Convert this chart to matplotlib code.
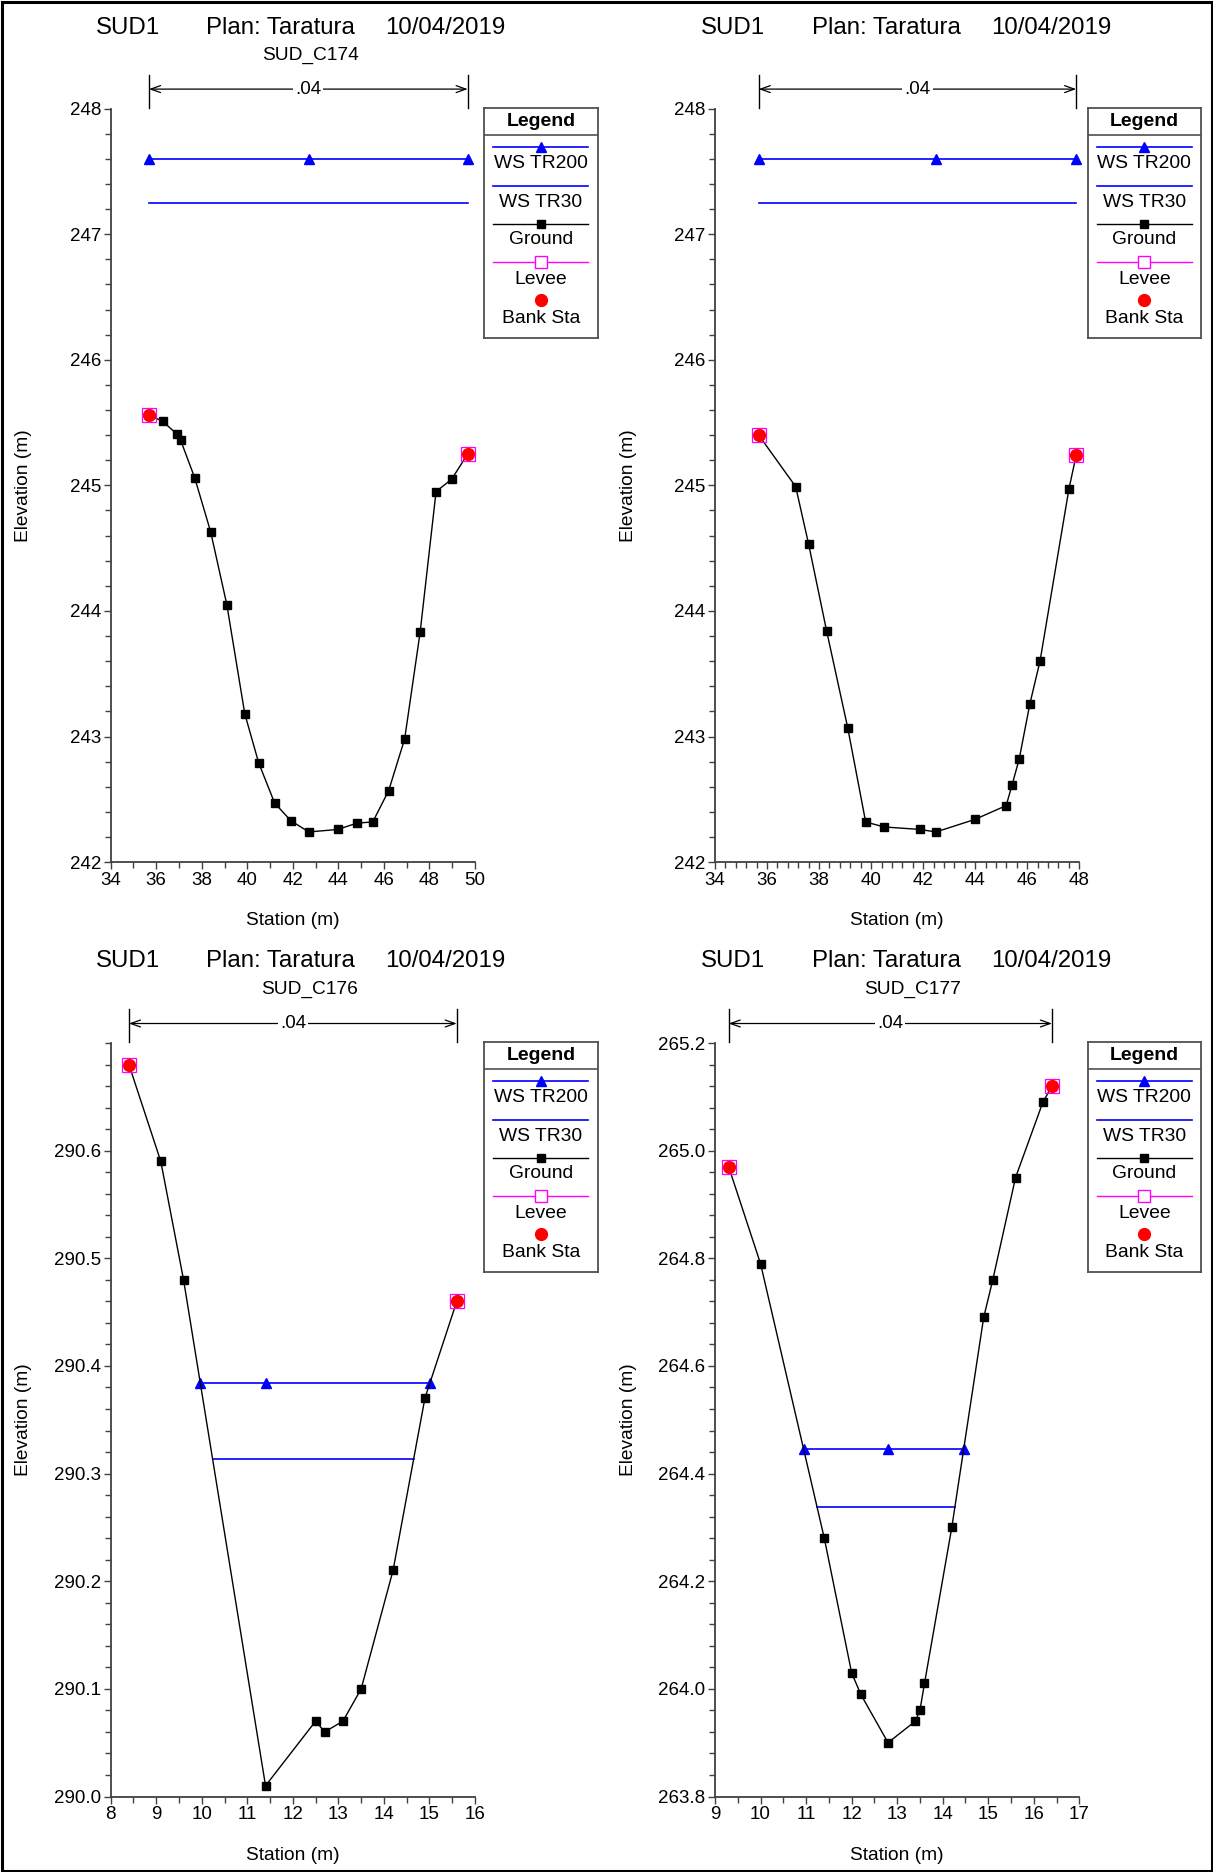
import matplotlib
matplotlib.use("Agg")
import matplotlib.pyplot as plt
import numpy as np
from matplotlib.ticker import MultipleLocator, FormatStrFormatter
from matplotlib.transforms import blended_transform_factory
from matplotlib.patches import Rectangle
from matplotlib.lines import Line2D

plt.rcParams['font.family'] = ['Liberation Sans', 'DejaVu Sans']

W, H = 1213, 1872

river = "SUD1"
plan = "Plan: Taratura"
date = "10/04/2019"
manning_n = ".04"
legend_labels = ["WS TR200", "WS TR30", "Ground", "Levee", "Bank Sta"]

# cross sections (subtitle, station, elevation, bank stations, WS TR200, WS TR30)
names = ["SUD_C174", "", "SUD_C176", "SUD_C177"]

sta_174 = [35.68, 36.28, 36.90, 37.07, 37.69, 38.39, 39.10, 39.89, 40.50, 41.20,
           41.91, 42.70, 43.97, 44.81, 45.51, 46.21, 46.91, 47.59, 48.29, 48.98, 49.68]
elev_174 = [245.56, 245.51, 245.41, 245.36, 245.06, 244.63, 244.05, 243.18, 242.79, 242.47,
            242.33, 242.24, 242.26, 242.31, 242.32, 242.57, 242.98, 243.83, 244.95, 245.05, 245.25]

sta_175 = [35.68, 37.10, 37.60, 38.29, 39.10, 39.79, 40.49, 41.88, 42.49, 43.99,
           45.19, 45.41, 45.69, 46.10, 46.49, 47.60, 47.88]
elev_175 = [245.40, 244.99, 244.53, 243.84, 243.07, 242.32, 242.28, 242.26, 242.24, 242.34,
            242.45, 242.61, 242.82, 243.26, 243.60, 244.97, 245.24]

sta_176 = [8.4, 9.1, 9.6, 11.4, 12.5, 12.7, 13.1, 13.5, 14.2, 14.9, 15.6]
elev_176 = [290.68, 290.59, 290.48, 290.01, 290.07, 290.06, 290.07, 290.10, 290.21, 290.37, 290.46]

sta_177 = [9.3, 10.0, 11.4, 12.0, 12.2, 12.8, 13.4, 13.5, 13.6, 14.2, 14.9, 15.1, 15.6, 16.2, 16.4]
elev_177 = [264.97, 264.79, 264.28, 264.03, 263.99, 263.90, 263.94, 263.96, 264.01, 264.30,
            264.69, 264.76, 264.95, 265.09, 265.12]

stations = [sta_174, sta_175, sta_176, sta_177]
elevations = [elev_174, elev_175, elev_176, elev_177]
ws_tr200 = [247.60, 247.60, 290.384, 264.445]
ws_tr30 = [247.25, 247.25, 290.314, 264.337]

xlims = [(34, 50), (34, 48), (8, 16), (9, 17)]
ylims = [(242, 248), (242, 248), (290.0, 290.7), (263.8, 265.2)]
xmajor = [2, 2, 1, 1]
xminor = [1, 0.4, 0.5, 0.5]
ymajor = [1, 1, 0.1, 0.2]
yminor = [0.2, 0.2, 0.02, 0.04]
yfmt = ["%d", "%d", "%.1f", "%.1f"]
ytop_label = [248, 248, 290.6, 265.2]


def px(x0, y0, x1, y1):
    # pixel box -> figure fraction rect
    return [x0 / W, 1 - y1 / H, (x1 - x0) / W, (y1 - y0) / H]


def ws_extent(x, z, ws):
    x = np.array(x)
    z = np.array(z)
    i0 = int(np.argmin(z))
    left = x[0]
    for i in range(i0, 0, -1):
        if z[i - 1] >= ws:
            left = x[i] + (ws - z[i]) / (z[i - 1] - z[i]) * (x[i - 1] - x[i])
            break
    right = x[-1]
    for i in range(i0, len(x) - 1):
        if z[i + 1] >= ws:
            right = x[i] + (ws - z[i]) / (z[i + 1] - z[i]) * (x[i + 1] - x[i])
            break
    return left, right, x[i0]


fig = plt.figure(figsize=(W / 100, H / 100), dpi=100)

col_off = [0, 604.3]
row_top = [108.6, 1043.0]
ax_w, ax_h = 364.3, 753.5
axis_col = "#404040"

for k in range(4):
    r, c = k // 2, k % 2
    left = 110.7 + col_off[c]
    top = row_top[r]
    ax = fig.add_axes(px(left, top, left + ax_w, top + ax_h))

    x = stations[k]
    z = elevations[k]
    banks = [x[0], x[-1]]
    bank_z = [z[0], z[-1]]

    # water surfaces
    l2, r2, thal = ws_extent(x, z, ws_tr200[k])
    ax.plot([l2, r2], [ws_tr200[k]] * 2, color="#0000ff", lw=1.2, zorder=3)
    ax.plot([l2, thal, r2], [ws_tr200[k]] * 3, ls="none", marker="^", ms=7,
            color="#0000ff", zorder=4, clip_on=False)
    l3, r3, _ = ws_extent(x, z, ws_tr30[k])
    ax.plot([l3, r3], [ws_tr30[k]] * 2, color="#0000ff", lw=1.2, zorder=3)

    # ground
    ax.plot(x, z, color="black", lw=1.0, marker="s", ms=6, zorder=5, clip_on=False)
    ax.plot(banks, bank_z, ls="none", marker="s", ms=9.5, mfc="none", mec="magenta",
            mew=0.9, zorder=6, clip_on=False)
    ax.plot(banks, bank_z, ls="none", marker="o", ms=8.5, color="red", zorder=7,
            clip_on=False)

    ax.set_xlim(*xlims[k])
    ax.set_ylim(*ylims[k])
    ax.xaxis.set_major_locator(MultipleLocator(xmajor[k]))
    ax.xaxis.set_minor_locator(MultipleLocator(xminor[k]))
    yt = np.arange(ylims[k][0], ytop_label[k] + ymajor[k] / 2, ymajor[k])
    ax.set_yticks(yt)
    ax.yaxis.set_minor_locator(MultipleLocator(yminor[k]))
    ax.yaxis.set_major_formatter(FormatStrFormatter(yfmt[k]))

    for s in ["top", "right"]:
        ax.spines[s].set_visible(False)
    for s in ["left", "bottom"]:
        ax.spines[s].set_color(axis_col)
        ax.spines[s].set_linewidth(1.3)
    ax.tick_params(which="both", direction="out", color=axis_col, labelsize=13.5,
                   labelcolor="black", pad=2)
    ax.tick_params(which="major", length=5, width=1)
    ax.tick_params(which="minor", length=4, width=1)
    ax.patch.set_visible(False)

    ax.set_xlabel("Station (m)", fontsize=13.8, va="center")
    ax.xaxis.set_label_coords(0.5, -0.078)
    ax.set_ylabel("Elevation (m)", fontsize=13.8, va="center")
    ax.yaxis.set_label_coords(-0.238, 0.5)

    # manning's n bracket above the banks
    tr = blended_transform_factory(ax.transData, fig.transFigure)
    y_arrow = 1 - (top - 19.5) / H
    y_bar0 = 1 - (top - 34) / H
    y_bar1 = 1 - (top - 1) / H
    for b in banks:
        ax.add_line(Line2D([b, b], [y_bar0, y_bar1], transform=tr, color="black",
                           lw=1.0, clip_on=False))
    ax.annotate("", xy=(banks[0], y_arrow), xytext=(banks[1], y_arrow), xycoords=tr,
                textcoords=tr, annotation_clip=False,
                arrowprops=dict(arrowstyle="<->,head_length=0.7,head_width=0.25",
                                color="black", lw=0.9, shrinkA=0, shrinkB=0))
    ax.text((banks[0] + banks[1]) / 2, y_arrow, manning_n, transform=tr, fontsize=13.5,
            ha="center", va="center",
            bbox=dict(facecolor="white", edgecolor="none", pad=1.5))

    # titles
    ty = 1 - (28.5 + (961 - 28.5) * r) / H
    for tx, txt in zip([95.5, 206.5, 385.6], [river, plan, date]):
        fig.text((tx + 605.5 * c) / W, ty, txt, fontsize=17.3, ha="left", va="center")
    if names[k]:
        fig.text((310 + 603 * c) / W, 1 - (55 + 934.5 * r) / H, names[k],
                 fontsize=13.8, ha="center", va="center")

    # legend box
    lx0 = 484.3 + 603.4 * c
    ly0 = 108.3 + 934.0 * r
    lax = fig.add_axes(px(lx0, ly0, lx0 + 113.4, ly0 + 230))
    lax.set_xlim(0, 113.4)
    lax.set_ylim(230, 0)
    lax.set_xticks([])
    lax.set_yticks([])
    for s in lax.spines.values():
        s.set_color("#505050")
        s.set_linewidth(1.3)
    lax.text(56.7, 12.8, "Legend", fontsize=14, fontweight="bold", ha="center", va="center")
    lax.plot([0, 113.4], [26.7, 26.7], color="#505050", lw=1.2)
    lx = [9, 56.7, 104]
    lax.plot(lx, [38.4] * 3, color="#0000ff", lw=1.2, marker="^", ms=7, markevery=[1])
    lax.plot([9, 104], [77.4] * 2, color="#0000ff", lw=1.2)
    lax.plot(lx, [115.7] * 3, color="black", lw=1.0, marker="s", ms=6, markevery=[1])
    lax.plot(lx, [154] * 3, color="magenta", lw=1.0, marker="s", ms=8, mfc="white",
             mec="magenta", markevery=[1])
    lax.plot([56.7], [191.7], ls="none", marker="o", ms=8.5, color="red")
    for ty2, lab in zip([55, 94, 131.7, 171.7, 210], legend_labels):
        lax.text(56.7, ty2, lab, fontsize=13.9, ha="center", va="center")

fig.patches.append(Rectangle((1.5 / W, 1.5 / H), 1 - 3 / W, 1 - 3 / H, transform=fig.transFigure,
                             fill=False, edgecolor="black", lw=2.2))

fig.savefig("out.png", dpi=100, facecolor="white")
